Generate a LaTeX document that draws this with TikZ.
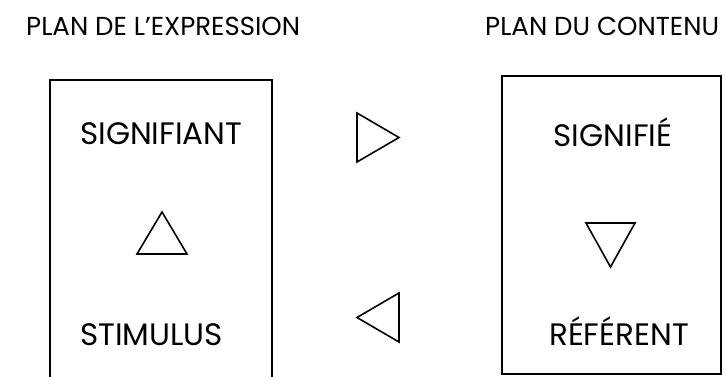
\documentclass[tikz,border=0pt]{standalone}
\usepackage{fontspec}
\setmainfont{Poppins}
\usepackage{tikz}
\usetikzlibrary{positioning}

\tikzset{
    plan/.style={inner sep=0pt, font=\fontsize{26}{26}\selectfont},
    terme/.style={inner sep=0pt, font=\fontsize{31}{31}\selectfont},
}

\begin{document}
\begin{tikzpicture}[x=1pt,y=-1pt]
                \useasboundingbox (0,0) rectangle (726,377);

                \node[plan, anchor=base west] (expr) at (26,36) {PLAN DE L’EXPRESSION};
                \node[plan, anchor=base west] (cont) at (485,36) {PLAN DU CONTENU};

                % plan de l'expression (ouvert en bas)
                \draw[
                    line width=2pt
                    ] (50,380) -- (50,80) -- (272,80) -- (272,380);

                \node[terme, anchor=base west] (signifiant) at (80,145) {SIGNIFIANT};
                \node[terme, anchor=base west] (stimulus) at (80,345) {STIMULUS};

                \draw[
                    line width=1.6pt,
                    line join=miter
                    ] (162,212) -- (187,254) -- (137,254) -- cycle;

                % plan du contenu
                \draw[
                    line width=2.2pt
                    ] (502,76) rectangle (721,374);

                \node[terme, anchor=base] (signifie) at (613,147) {SIGNIFIÉ};
                \node[terme, anchor=base] (referent) at (619,345) {RÉFÉRENT};

                \draw[
                    line width=1.6pt,
                    line join=miter
                    ] (586,223) -- (635,223) -- (610.5,267) -- cycle;

                % fleches
                \draw[
                    line width=1.6pt,
                    line join=miter
                    ] (357,113) -- (399,137.5) -- (357,162) -- cycle;

                \draw[
                    line width=1.6pt,
                    line join=miter
                    ] (399,293) -- (357,317.5) -- (399,342) -- cycle;

            \end{tikzpicture}
\end{document}
